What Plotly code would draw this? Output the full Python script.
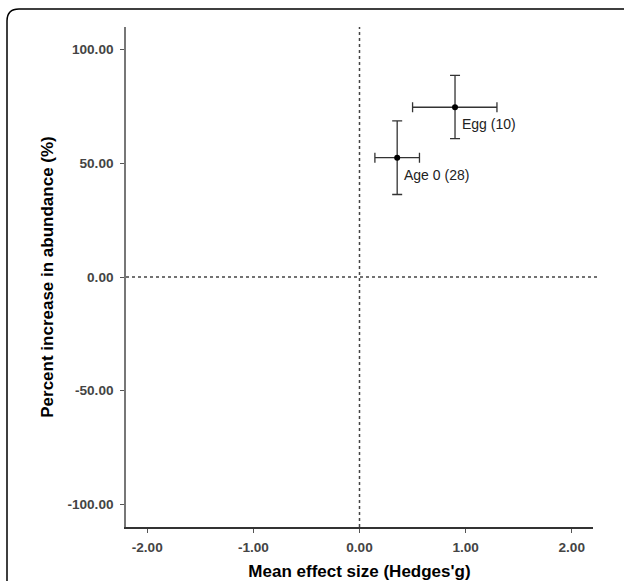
import plotly.graph_objects as go

# Data
labels = ["Egg (10)", "Age 0 (28)"]
effect = [0.90, 0.355]
effect_lo = [0.50, 0.145]
effect_hi = [1.295, 0.565]
pct = [74.7, 52.5]
pct_lo = [60.9, 36.3]
pct_hi = [88.7, 68.7]
x_ticks = [-2, -1, 0, 1, 2]
y_ticks = [-100, -50, 0, 50, 100]

W, H = 624, 581
L, R, T, B = 126, 31, 27, 54

fig = go.Figure()

fig.add_trace(go.Scatter(
    x=effect, y=pct, mode="markers",
    marker=dict(color="black", size=6),
    error_x=dict(type="data", symmetric=False,
                 array=[h - m for h, m in zip(effect_hi, effect)],
                 arrayminus=[m - l for m, l in zip(effect, effect_lo)],
                 color="#333333", thickness=1.3, width=5),
    error_y=dict(type="data", symmetric=False,
                 array=[h - m for h, m in zip(pct_hi, pct)],
                 arrayminus=[m - l for m, l in zip(pct, pct_lo)],
                 color="#333333", thickness=1.3, width=5),
    showlegend=False, hoverinfo="skip",
))

for xv, yv, t in zip(effect, pct, labels):
    fig.add_annotation(x=xv, y=yv, text=t, showarrow=False,
                       xanchor="left", yanchor="middle", xshift=5, yshift=-17,
                       font=dict(family="Liberation Sans, Arial", size=14, color="#222222"))

# reference lines
fig.add_shape(type="line", xref="x", yref="paper", x0=0, x1=0, y0=0, y1=1,
              line=dict(color="#444444", width=1.5, dash="dot"))
fig.add_shape(type="line", xref="paper", yref="y", x0=0, x1=1.01, y0=0, y1=0,
              line=dict(color="#444444", width=1.5, dash="dot"))

# outer rounded border (pixel -> paper)
pw, ph = W - L - R, H - T - B
def px(v):
    return (v - L) / pw
def py(v):
    return (H - B - v) / ph
path = (f"M {px(7)},{py(590)} L {px(7)},{py(21)} "
        f"Q {px(7)},{py(9)} {px(19)},{py(9)} L {px(630)},{py(9)}")
fig.add_shape(type="path", xref="paper", yref="paper", path=path,
              line=dict(color="black", width=1.5))

tickfont = dict(family="Liberation Sans, Arial", size=13.6, color="#444444")
titlefont = dict(family="Liberation Sans, Arial", size=17, color="black")

fig.update_xaxes(range=[-2.2, 2.2], tickvals=x_ticks,
                 ticktext=[f"<b>{v:.2f}</b>" for v in x_ticks],
                 showgrid=False, zeroline=False, showline=True,
                 linecolor="#333333", linewidth=1.5, automargin=False,
                 ticks="outside", ticklen=4, tickcolor="#555555",
                 tickfont=tickfont, ticklabelstandoff=3,
                 title=dict(text="<b>Mean effect size (Hedges'g)</b>", font=titlefont, standoff=15))
fig.update_yaxes(range=[-110, 110], tickvals=y_ticks,
                 ticktext=[f"<b>{v:.2f}</b>" for v in y_ticks],
                 showgrid=False, zeroline=False, showline=True,
                 linecolor="#777777", linewidth=1.5, automargin=False,
                 ticks="outside", ticklen=4, tickcolor="#555555",
                 tickfont=tickfont, ticklabelstandoff=4,
                 title=dict(text="<b>Percent increase in abundance (%)</b>", font=titlefont, standoff=9))

fig.update_layout(width=W, height=H, margin=dict(l=L, r=R, t=T, b=B),
                  plot_bgcolor="white", paper_bgcolor="white")

fig.write_html("out.html", config={"displayModeBar": False},
               post_script="document.body.style.margin='0';document.body.style.overflow='hidden';")
